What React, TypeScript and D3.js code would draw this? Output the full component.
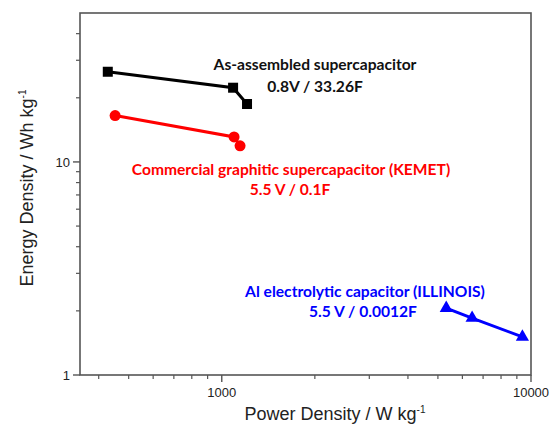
import React from "react";
import * as d3 from "d3";

const W = 554;
const H = 426;

const assembledPower = [428, 1088, 1207];
const assembledEnergy = [26.5, 22.3, 18.7];
const kemetPower = [452, 1096, 1146];
const kemetEnergy = [16.5, 13.1, 11.9];
const illinoisPower = [5320, 6450, 9380];
const illinoisEnergy = [2.06, 1.85, 1.51];

const xMajorTicks = [1000, 10000];
const xMinorTicks = [400, 500, 600, 700, 800, 900, 2000, 3000, 4000, 5000, 6000, 7000, 8000, 9000];
const yMajorTicks = [1, 10];
const yMinorTicks = [2, 3, 4, 5, 6, 7, 8, 9, 20, 30, 40];

const xDomain = [348, 10000];
const yDomain = [1, 50];

export default function App() {
  const left = 80, right = 531, top = 13, bottom = 375;
  const x = d3.scaleLog().domain(xDomain).range([left, right]);
  const y = d3.scaleLog().domain(yDomain).range([bottom, top]);
  const line = d3.line<[number, number]>().x((d) => x(d[0])).y((d) => y(d[1]));

  const pairs = (a: number[], b: number[]) => a.map((v, i) => [v, b[i]] as [number, number]);
  const black = pairs(assembledPower, assembledEnergy);
  const red = pairs(kemetPower, kemetEnergy);
  const blue = pairs(illinoisPower, illinoisEnergy);

  const axisColor = "#555";
  const tri = d3.symbol().type(d3.symbolTriangle).size(75)() as string;
  const annFont = "Lato, 'Open Sans', sans-serif";

  return (
    <svg width={W} height={H} style={{ position: "absolute", left: 0, top: 0, background: "#fff" }}>
      <rect x={left} y={top} width={right - left} height={bottom - top} fill="none" stroke={axisColor} strokeWidth={1.6} />
      {xMajorTicks.map((t) => (
        <g key={"xm" + t}>
          <line x1={x(t)} x2={x(t)} y1={bottom} y2={bottom + 7} stroke={axisColor} strokeWidth={1.4} />
          <text x={x(t)} y={bottom + 22} textAnchor="middle" fontFamily="'Liberation Sans', Arial, sans-serif" fontSize={13} fill="#222">{t}</text>
        </g>
      ))}
      {xMinorTicks.map((t) => (
        <line key={"xn" + t} x1={x(t)} x2={x(t)} y1={bottom} y2={bottom + 4} stroke={axisColor} strokeWidth={1.2} />
      ))}
      {yMajorTicks.map((t) => (
        <g key={"ym" + t}>
          <line x1={left - 7} x2={left} y1={y(t)} y2={y(t)} stroke={axisColor} strokeWidth={1.4} />
          <text x={left - 10} y={y(t) + 5} textAnchor="end" fontFamily="'Liberation Sans', Arial, sans-serif" fontSize={13} fill="#222">{t}</text>
        </g>
      ))}
      {yMinorTicks.map((t) => (
        <line key={"yn" + t} x1={left - 4} x2={left} y1={y(t)} y2={y(t)} stroke={axisColor} strokeWidth={1.2} />
      ))}

      <text x={335} y={420} textAnchor="middle" fontFamily="'Liberation Sans', Arial, sans-serif" fontSize={18} fill="#222">
        Power Density / W kg<tspan dy={-7} fontSize={10}>-1</tspan>
      </text>
      <text transform={`translate(33,188) rotate(-90)`} textAnchor="middle" fontFamily="'Liberation Sans', Arial, sans-serif" fontSize={18} fill="#222">
        Energy Density / Wh kg<tspan dy={-7} fontSize={10}>-1</tspan>
      </text>

      <path d={line(black) as string} fill="none" stroke="#000" strokeWidth={3} />
      {black.map((d, i) => (
        <rect key={"b" + i} x={x(d[0]) - 5} y={y(d[1]) - 5} width={10} height={10} fill="#000" />
      ))}
      <path d={line(red) as string} fill="none" stroke="#ff0000" strokeWidth={3} />
      {red.map((d, i) => (
        <circle key={"r" + i} cx={x(d[0])} cy={y(d[1])} r={5.5} fill="#ff0000" />
      ))}
      <path d={line(blue) as string} fill="none" stroke="#0000ff" strokeWidth={3} />
      {blue.map((d, i) => (
        <path key={"t" + i} d={tri} transform={`translate(${x(d[0])},${y(d[1])})`} fill="#0000ff" />
      ))}

      <g fontFamily={annFont} fontWeight={700} fontSize={15.6} textAnchor="middle">
        <text x={315} y={70} fill="#111">As-assembled supercapacitor</text>
        <text x={315} y={92} fill="#111">0.8V / 33.26F</text>
        <text x={291} y={175} fill="#ff0000">Commercial graphitic supercapacitor (KEMET)</text>
        <text x={290} y={195} fill="#ff0000">5.5 V / 0.1F</text>
        <text x={365} y={297} fill="#0000ff">Al electrolytic capacitor (ILLINOIS)</text>
        <text x={363} y={317} fill="#0000ff">5.5 V / 0.0012F</text>
      </g>
    </svg>
  );
}
